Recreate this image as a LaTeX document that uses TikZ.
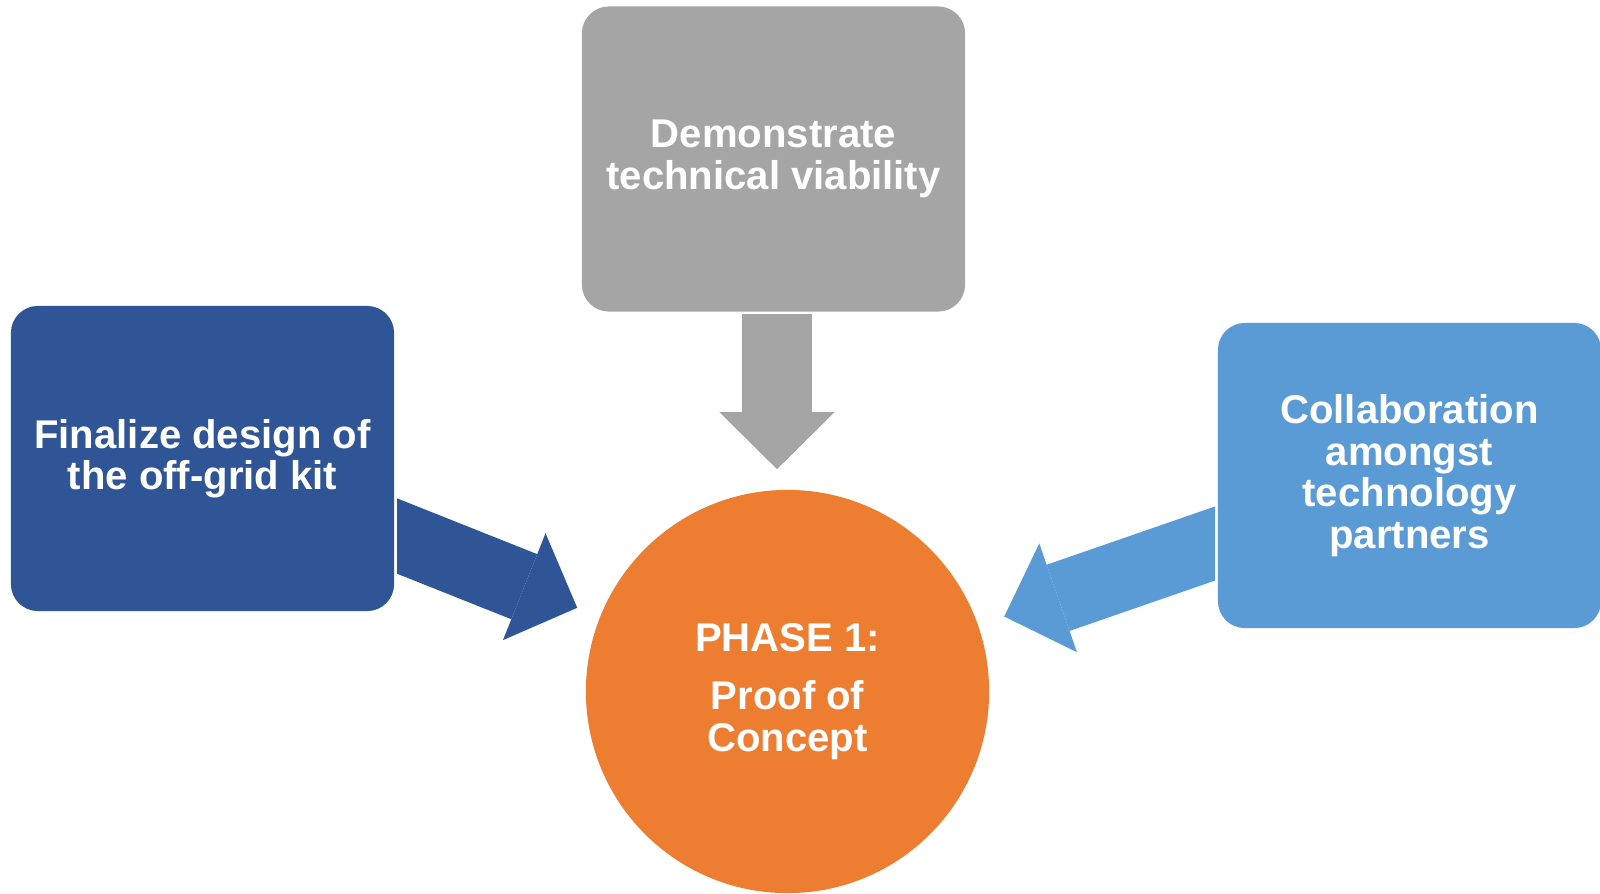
\documentclass[tikz,border=0pt]{standalone}
\usepackage{fontspec}
\setmainfont{Liberation Sans}
\usepackage{tikz}
\usetikzlibrary{arrows.meta,calc,positioning}

\definecolor{boxgray}{HTML}{A5A5A5}
\definecolor{boxnavy}{HTML}{2F5597}
\definecolor{boxsky}{HTML}{5B9BD5}
\definecolor{huborange}{HTML}{ED7D31}

\begin{document}
\begin{tikzpicture}[
		x=0.01cm, y=-0.01cm,
		label font/.style={font=\bfseries\fontsize{11.4}{11.8}\selectfont,
			execute at begin node={\rule{0pt}{0.35cm}}},
		box/.style={rounded corners=0.27cm, minimum width=3.83cm, minimum height=3.05cm,
			inner sep=0pt, align=center, text=white, label font},
		hub/.style={circle, fill=huborange, minimum size=4.03cm, inner sep=0pt,
			align=center, text=white, label font},
		bigarrow/.style={line width=0.7cm,
			-{Triangle[length=0.57cm, width=1.15cm, line width=0pt]}}
		]
	\useasboundingbox (0,0) rectangle (1600,893);

	% --- les trois blocs et le cercle central ---
	\node[box, fill=boxgray] (demo) at (773.5,159) {Demonstrate\\technical viability};
	\node[box, fill=boxnavy] (design) at (202.5,458.5) {Finalize design of\\the off-grid kit};
	\node[box, fill=boxsky] (collab) at (1409.5,475.5) {Collaboration\\amongst\\technology\\partners};
	\node[hub] (phase) at (787.5,691.5) {PHASE 1:\\[0.17cm]Proof of\\Concept};

	% --- flèches vers le cercle ---
	\coordinate (demoout) at (777,314);
	\coordinate (designout) at (397,536);
	\coordinate (collabout) at (1215,543.5);

	\draw[bigarrow, boxgray, shorten >=0.2cm] (demoout) -- (demoout |- phase.north);

	% bouts droits le long du bord des blocs
	\begin{scope}
		\clip (397,0) rectangle (1600,893);
		\draw[bigarrow, boxnavy, shorten >=0.24cm] ($(designout)!-0.1!(phase.center)$) -- (phase);
	\end{scope}
	\begin{scope}
		\clip (0,0) rectangle (1215,893);
		\draw[bigarrow, boxsky, shorten >=0.27cm] ($(collabout)!-0.1!(phase.center)$) -- (phase);
	\end{scope}

\end{tikzpicture}
\end{document}
